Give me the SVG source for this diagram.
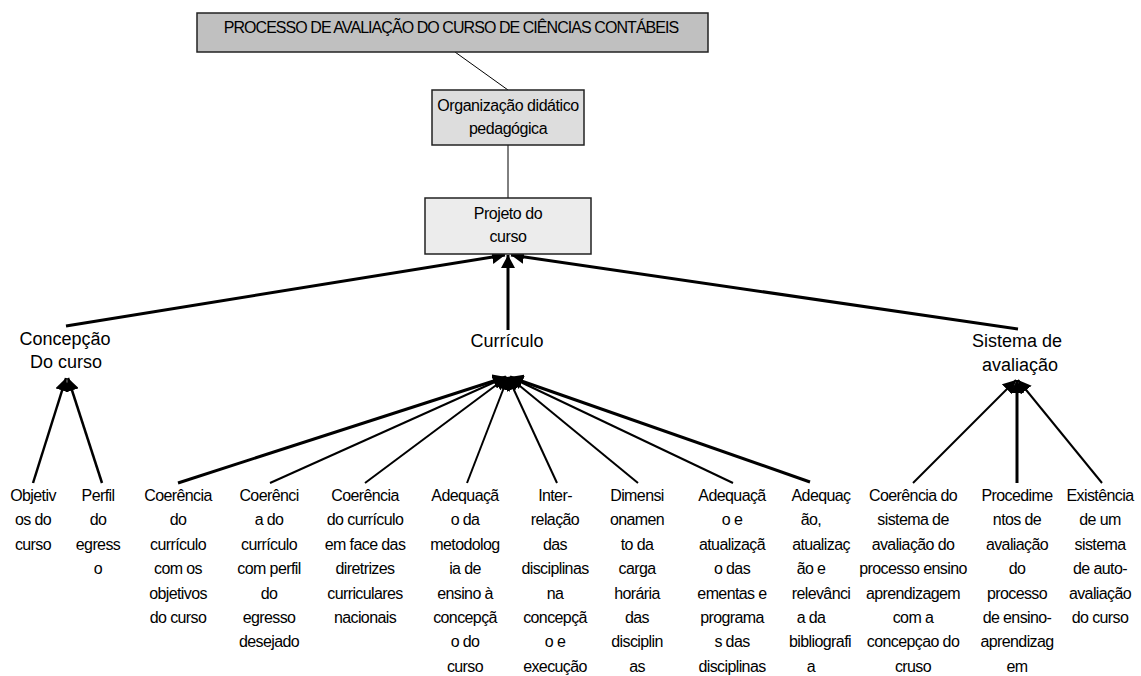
<svg xmlns="http://www.w3.org/2000/svg" width="1141" height="676" viewBox="0 0 1141 676">
<style>
text{font-family:"Liberation Sans",Arial,sans-serif;fill:#000}
.box{stroke:#222;stroke-width:1.5}
.t15{font-size:16px;text-anchor:middle;letter-spacing:-0.45px}
.title{font-size:16px;text-anchor:middle;letter-spacing:-0.94px}
.lab{font-size:18px;text-anchor:middle}
.leaf{font-size:16px;text-anchor:middle;letter-spacing:-0.6px}
.thin{stroke:#000;stroke-width:1;fill:none}
.a3{stroke:#000;stroke-width:3;fill:none;marker-end:url(#ah)}
.a2{stroke:#000;stroke-width:2;fill:none;marker-end:url(#ah)}
.a25{stroke:#000;stroke-width:2.5;fill:none;marker-end:url(#ah)}
</style>
<defs>
<marker id="ah" markerUnits="userSpaceOnUse" markerWidth="14" markerHeight="14" refX="13" refY="7" orient="auto" viewBox="0 0 14 14">
<path d="M0,0 L13,7 L0,14 Z" fill="#000"/>
</marker>
</defs>
<rect width="1141" height="676" fill="#fff"/>

<g id="connectors">
<line class="thin" x1="455" y1="52" x2="508" y2="90"/>
<line class="thin" x1="508" y1="145" x2="508" y2="198"/>
<line class="a3" x1="66" y1="326" x2="505" y2="255"/>
<line class="a3" x1="508" y1="330" x2="508" y2="255"/>
<line class="a3" x1="1018" y1="329" x2="511" y2="255"/>
<line class="a25" x1="33" y1="483" x2="66" y2="378"/>
<line class="a25" x1="102" y1="483" x2="68" y2="378"/>
<line class="a3" x1="178" y1="483" x2="506" y2="377"/>
<line class="a2" x1="270" y1="483" x2="506" y2="377"/>
<line class="a2" x1="365" y1="483" x2="507" y2="377"/>
<line class="a2" x1="467" y1="483" x2="508" y2="377"/>
<line class="a2" x1="557" y1="483" x2="508" y2="377"/>
<line class="a2" x1="638" y1="483" x2="509" y2="377"/>
<line class="a2" x1="733" y1="483" x2="510" y2="377"/>
<line class="a3" x1="810" y1="482" x2="510" y2="377"/>
<line class="a2" x1="913" y1="483" x2="1016" y2="380"/>
<line class="a3" x1="1017" y1="483" x2="1017" y2="380"/>
<line class="a2" x1="1102" y1="483" x2="1018" y2="380"/>
</g>

<g id="root">
<rect class="box" x="197" y="13" width="511" height="39" fill="#c0c0c0"/>
<text class="title" x="451" y="33">PROCESSO DE AVALIAÇÃO DO CURSO DE CIÊNCIAS CONTÁBEIS</text>
</g>
<g id="org">
<rect class="box" x="432" y="90" width="152" height="55" fill="#dddddd"/>
<text class="t15" x="508" y="111">Organização didático</text>
<text class="t15" x="508" y="134">pedagógica</text>
</g>
<g id="projeto">
<rect class="box" x="425" y="198" width="166" height="56" fill="#ececec"/>
<text class="t15" x="508" y="219">Projeto do</text>
<text class="t15" x="508" y="242">curso</text>
</g>

<g id="concepcao">
<text class="lab" x="65" y="345">Concepção</text>
<text class="lab" x="66" y="368">Do curso</text>
</g>
<g id="curriculo">
<text class="lab" x="507" y="347">Currículo</text>
</g>
<g id="sistema">
<text class="lab" x="1017" y="347">Sistema de</text>
<text class="lab" x="1020" y="371">avaliação</text>
</g>

<g id="objetivos">
<text class="leaf" y="501"><tspan x="33">Objetiv</tspan><tspan x="33" dy="24.4">os do</tspan><tspan x="33" dy="24.4">curso</tspan></text>
</g>
<g id="perfil">
<text class="leaf" y="501"><tspan x="98">Perfil</tspan><tspan x="98" dy="24.4">do</tspan><tspan x="98" dy="24.4">egress</tspan><tspan x="98" dy="24.4">o</tspan></text>
</g>
<g id="coer1">
<text class="leaf" y="501"><tspan x="178">Coerência</tspan><tspan x="178" dy="24.4">do</tspan><tspan x="178" dy="24.4">currículo</tspan><tspan x="178" dy="24.4">com os</tspan><tspan x="178" dy="24.4">objetivos</tspan><tspan x="178" dy="24.4">do curso</tspan></text>
</g>
<g id="coer2">
<text class="leaf" y="501"><tspan x="269">Coerênci</tspan><tspan x="269" dy="24.4">a do</tspan><tspan x="269" dy="24.4">currículo</tspan><tspan x="269" dy="24.4">com perfil</tspan><tspan x="269" dy="24.4">do</tspan><tspan x="269" dy="24.4">egresso</tspan><tspan x="269" dy="24.4">desejado</tspan></text>
</g>
<g id="coer3">
<text class="leaf" y="501"><tspan x="365">Coerência</tspan><tspan x="365" dy="24.4">do currículo</tspan><tspan x="365" dy="24.4">em face das</tspan><tspan x="365" dy="24.4">diretrizes</tspan><tspan x="365" dy="24.4">curriculares</tspan><tspan x="365" dy="24.4">nacionais</tspan></text>
</g>
<g id="metodologia">
<text class="leaf" y="501"><tspan x="465">Adequaçã</tspan><tspan x="465" dy="24.4">o da</tspan><tspan x="465" dy="24.4">metodolog</tspan><tspan x="465" dy="24.4">ia de</tspan><tspan x="465" dy="24.4">ensino à</tspan><tspan x="465" dy="24.4">concepçã</tspan><tspan x="465" dy="24.4">o do</tspan><tspan x="465" dy="24.4">curso</tspan></text>
</g>
<g id="interrelacao">
<text class="leaf" y="501"><tspan x="555">Inter-</tspan><tspan x="555" dy="24.4">relação</tspan><tspan x="555" dy="24.4">das</tspan><tspan x="555" dy="24.4">disciplinas</tspan><tspan x="555" dy="24.4">na</tspan><tspan x="555" dy="24.4">concepçã</tspan><tspan x="555" dy="24.4">o e</tspan><tspan x="555" dy="24.4">execução</tspan></text>
</g>
<g id="dimensionamento">
<text class="leaf" y="501"><tspan x="637">Dimensi</tspan><tspan x="637" dy="24.4">onamen</tspan><tspan x="637" dy="24.4">to da</tspan><tspan x="637" dy="24.4">carga</tspan><tspan x="637" dy="24.4">horária</tspan><tspan x="637" dy="24.4">das</tspan><tspan x="637" dy="24.4">disciplin</tspan><tspan x="637" dy="24.4">as</tspan></text>
</g>
<g id="ementas">
<text class="leaf" y="501"><tspan x="732">Adequaçã</tspan><tspan x="732" dy="24.4">o e</tspan><tspan x="732" dy="24.4">atualizaçã</tspan><tspan x="732" dy="24.4">o das</tspan><tspan x="732" dy="24.4">ementas e</tspan><tspan x="732" dy="24.4">programa</tspan><tspan x="732" dy="24.4">s das</tspan><tspan x="732" dy="24.4">disciplinas</tspan></text>
</g>
<g id="bibliografia">
<text class="leaf" y="501"><tspan x="821">Adequaç</tspan><tspan x="811" dy="24.4">ão,</tspan><tspan x="821" dy="24.4">atualizaç</tspan><tspan x="811" dy="24.4">ão e</tspan><tspan x="821" dy="24.4">relevânci</tspan><tspan x="811" dy="24.4">a da</tspan><tspan x="820" dy="24.4">bibliografi</tspan><tspan x="811" dy="24.4">a</tspan></text>
</g>
<g id="coersistema">
<text class="leaf" y="501"><tspan x="913">Coerência do</tspan><tspan x="913" dy="24.4">sistema de</tspan><tspan x="913" dy="24.4">avaliação do</tspan><tspan x="913" dy="24.4">processo ensino</tspan><tspan x="913" dy="24.4">aprendizagem</tspan><tspan x="913" dy="24.4">com a</tspan><tspan x="913" dy="24.4">concepçao do</tspan><tspan x="913" dy="24.4">cruso</tspan></text>
</g>
<g id="procedimentos">
<text class="leaf" y="501"><tspan x="1017">Procedime</tspan><tspan x="1017" dy="24.4">ntos de</tspan><tspan x="1017" dy="24.4">avaliação</tspan><tspan x="1017" dy="24.4">do</tspan><tspan x="1017" dy="24.4">processo</tspan><tspan x="1017" dy="24.4">de ensino-</tspan><tspan x="1017" dy="24.4">aprendizag</tspan><tspan x="1017" dy="24.4">em</tspan></text>
</g>
<g id="existencia">
<text class="leaf" y="501"><tspan x="1100">Existência</tspan><tspan x="1100" dy="24.4">de um</tspan><tspan x="1100" dy="24.4">sistema</tspan><tspan x="1100" dy="24.4">de auto-</tspan><tspan x="1100" dy="24.4">avaliação</tspan><tspan x="1100" dy="24.4">do curso</tspan></text>
</g>
</svg>
